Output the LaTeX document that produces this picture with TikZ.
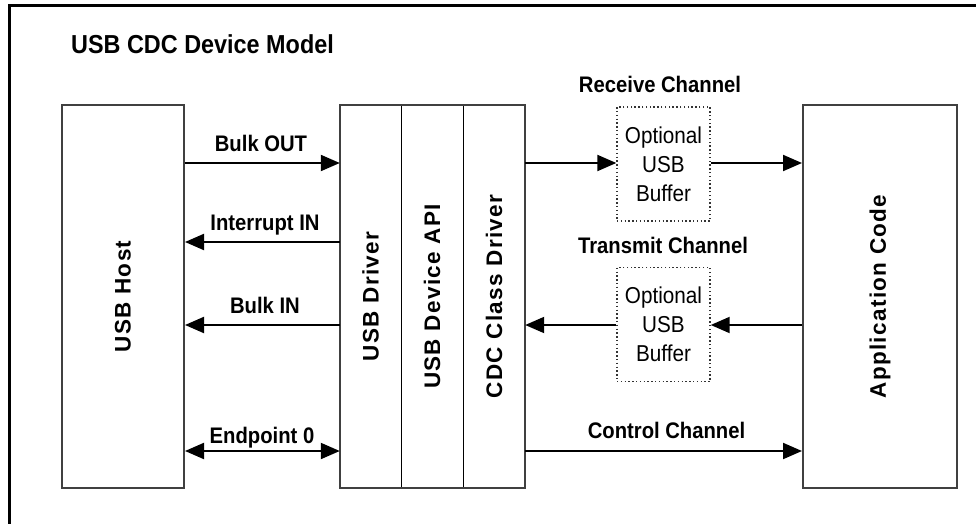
\documentclass[tikz,border=0pt]{standalone}
\usepackage{graphicx}
\usepackage{fontspec}
\setmainfont{Liberation Sans}[FakeStretch=0.9]
\newfontfamily\vertfont{Liberation Sans}[LetterSpace=6]
\usetikzlibrary{arrows.meta}

\begin{document}
\begin{tikzpicture}[x=1pt,y=-1pt,
  block/.style={rectangle, inner sep=0pt, draw=black!75, line width=2pt},
  bare/.style={rectangle, inner sep=0pt},
  bufbox/.style={rectangle, inner sep=0pt, draw=black!80, line width=1.4pt,
    dash pattern=on 1.4pt off 2.4pt, minimum width=93pt, minimum height=114pt,
    align=center, font=\fontsize{23}{29}\selectfont},
  vlabel/.style={font=\vertfont\bfseries\fontsize{22.5}{26}\selectfont},
  lbl/.style={anchor=base, inner sep=0pt, font=\bfseries\fontsize{22.5}{27}\selectfont},
  conn/.style={line width=2pt, -{Triangle[length=19pt,width=16pt]}},
  conn2/.style={line width=2pt, {Triangle[length=19pt,width=16pt]}-{Triangle[length=19pt,width=16pt]}}
]
\useasboundingbox (0,0) rectangle (976,524);
\fill[white] (0,0) rectangle (976,524);

% outer frame
\draw[line width=3pt] (976,6) -- (9,6) -- (9,524);

% title
\node[anchor=base west, inner sep=0pt, font=\bfseries\fontsize{26}{30}\selectfont]
  (title) at (71,54) {USB CDC Device Model};

% row levels for the connectors
\coordinate (rowA) at (0,163);
\coordinate (rowB) at (0,242);
\coordinate (rowC) at (0,325);
\coordinate (rowD) at (0,451);

% main blocks
\node[block, minimum width=122pt, minimum height=383pt] (host) at (123,296.5) {};
\node[bare, minimum width=61pt, minimum height=383pt] (drv) at (370.5,296.5) {};
\node[bare, minimum width=62pt, minimum height=383pt] (api) at (432,296.5) {};
\node[bare, minimum width=62pt, minimum height=383pt] (cdc) at (494,296.5) {};
\node[block, minimum width=154pt, minimum height=383pt] (app) at (880,296.5) {};

\draw[line width=1.4pt] (drv.north east) -- (drv.south east);
\draw[line width=1.4pt] (api.north east) -- (api.south east);
\draw[draw=black!75, line width=2pt] (drv.north west) rectangle (cdc.south east);

% vertical labels
\node[vlabel] (hostText) at (host.center) {\rotatebox{90}{USB Host}};
\node[vlabel] (drvText) at (drv.center) {\rotatebox{90}{USB Driver}};
\node[vlabel] (apiText) at (api.center) {\rotatebox{90}{USB Device API}};
\node[vlabel] (cdcText) at (cdc.center) {\rotatebox{90}{CDC Class Driver}};
\node[vlabel] (appText) at (app.center) {\rotatebox{90}{Application Code}};

% optional buffers
\node[bufbox] (rxbuf) at (663.5,164) {Optional\\USB\\Buffer};
\node[bufbox] (txbuf) at (663.5,324.5) {Optional\\USB\\Buffer};

% host side connectors
\draw[conn] (host.east |- rowA) -- (drv.west |- rowA);
\draw[conn] (drv.west |- rowB) -- (host.east |- rowB);
\draw[conn] (drv.west |- rowC) -- (host.east |- rowC);
\draw[conn2] (host.east |- rowD) -- (drv.west |- rowD);

% application side connectors
\draw[conn] (cdc.east |- rowA) -- (rxbuf.west |- rowA);
\draw[conn] (rxbuf.east |- rowA) -- (app.west |- rowA);
\draw[conn] (app.west |- rowC) -- (txbuf.east |- rowC);
\draw[conn] (txbuf.west |- rowC) -- (cdc.east |- rowC);
\draw[conn] (cdc.east |- rowD) -- (app.west |- rowD);

% connector labels
\node[lbl] (lBulkOut) at (261,151) {Bulk OUT};
\node[lbl] (lIntIn) at (265,230) {Interrupt IN};
\node[lbl] (lBulkIn) at (265,313) {Bulk IN};
\node[lbl] (lEp0) at (262,443) {Endpoint 0};
\node[lbl] (lCtrl) at (666.5,438) {Control Channel};
\node[lbl] (lRx) at (660,93) {Receive Channel};
\node[lbl] (lTx) at (663,253) {Transmit Channel};
\end{tikzpicture}
\end{document}
